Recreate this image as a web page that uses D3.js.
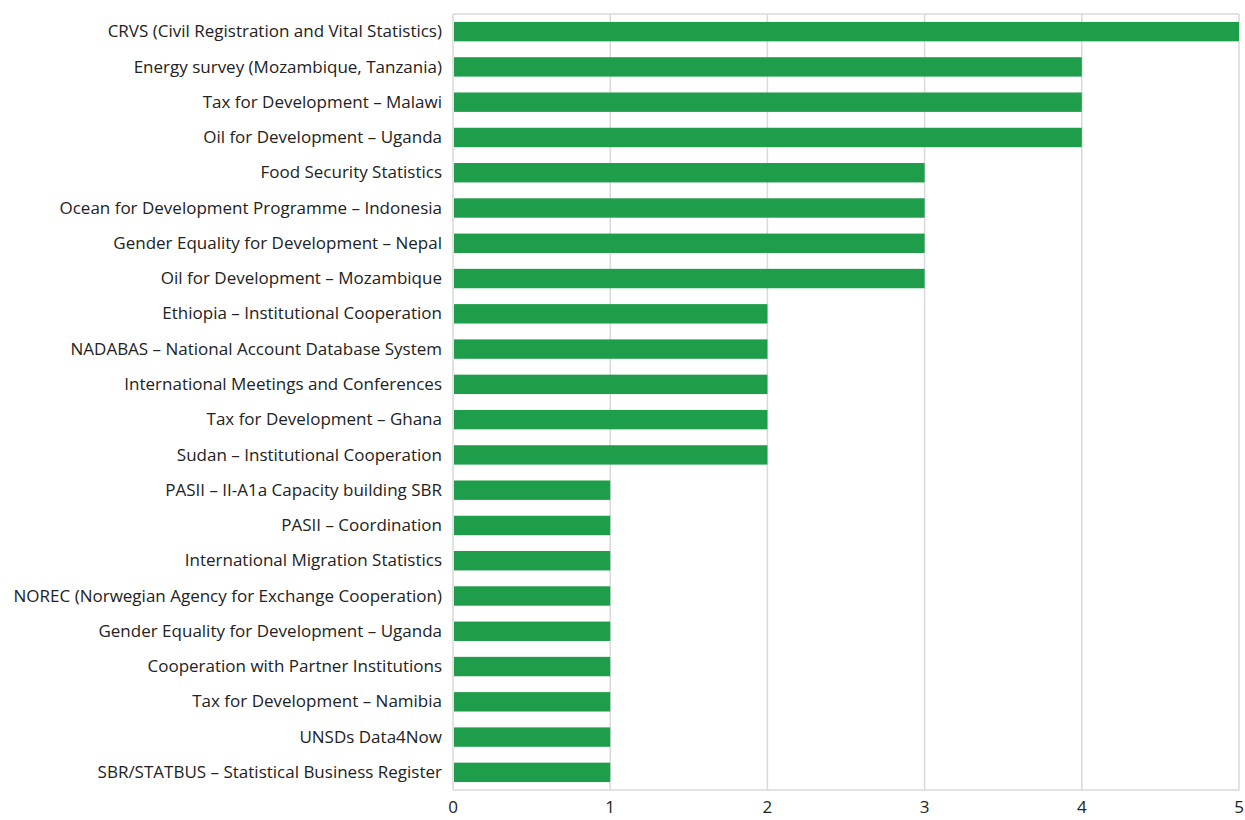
<!DOCTYPE html>
<html>
<head>
<meta charset="utf-8">
<script src="https://cdn.jsdelivr.net/npm/d3@7"></script>
<style>
  body { margin: 0; background: #fff; }
  text { font-family: "Open Sans", sans-serif; }
</style>
</head>
<body>
<div id="vis"></div>
<script>
// categories, top to bottom
let projects = [
  "CRVS (Civil Registration and Vital Statistics)",
  "Energy survey (Mozambique, Tanzania)",
  "Tax for Development – Malawi",
  "Oil for Development – Uganda",
  "Food Security Statistics",
  "Ocean for Development Programme – Indonesia",
  "Gender Equality for Development – Nepal",
  "Oil for Development – Mozambique",
  "Ethiopia – Institutional Cooperation",
  "NADABAS – National Account Database System",
  "International Meetings and Conferences",
  "Tax for Development – Ghana",
  "Sudan – Institutional Cooperation",
  "PASII – II-A1a Capacity building SBR",
  "PASII – Coordination",
  "International Migration Statistics",
  "NOREC (Norwegian Agency for Exchange Cooperation)",
  "Gender Equality for Development – Uganda",
  "Cooperation with Partner Institutions",
  "Tax for Development – Namibia",
  "UNSDs Data4Now",
  "SBR/STATBUS – Statistical Business Register"
]
let counts = [5, 4, 4, 4, 3, 3, 3, 3, 2, 2, 2, 2, 2, 1, 1, 1, 1, 1, 1, 1, 1, 1]
let xTicks = [0, 1, 2, 3, 4, 5]

let margin = { top: 14, left: 453, right: 6, bottom: 30 },
  width = 1245 - margin.left - margin.right,
  height = 820 - margin.top - margin.bottom

let svg = d3.select('#vis')
  .append('svg')
  .attr('width', 1245)
  .attr('height', 820)

let g = svg.append('g')
  .attr('transform', `translate(${margin.left},${margin.top})`)

let x = d3.scaleLinear().domain([0, 5]).range([0, width])
let y = d3.scaleBand().domain(projects).range([0, height]).paddingInner(0.45).paddingOuter(0.225)

// gridlines
g.selectAll('.grid')
  .data(xTicks)
  .join('line')
  .attr('x1', d => x(d)).attr('x2', d => x(d))
  .attr('y1', 0).attr('y2', height)
  .attr('stroke', '#d9d9d9')
  .attr('stroke-width', 1.5)

// frame top and bottom
g.append('line')
  .attr('x1', 0).attr('x2', width)
  .attr('y1', 0).attr('y2', 0)
  .attr('stroke', '#d9d9d9').attr('stroke-width', 1.5)
g.append('line')
  .attr('x1', 0).attr('x2', width)
  .attr('y1', height).attr('y2', height)
  .attr('stroke', '#d9d9d9').attr('stroke-width', 1.5)

// bars
g.selectAll('.bar')
  .data(projects)
  .join('rect')
  .attr('x', x(0) + 1)
  .attr('y', d => y(d))
  .attr('width', (d, i) => x(counts[i]) - x(0) - 1)
  .attr('height', y.bandwidth())
  .attr('fill', '#1e9e4a')

// category labels
g.selectAll('.label')
  .data(projects)
  .join('text')
  .attr('x', -11)
  .attr('y', d => y(d) + y.bandwidth() / 2)
  .attr('dy', '0.33em')
  .attr('text-anchor', 'end')
  .attr('font-size', 17)
  .attr('fill', '#222')
  .text(d => d)

// x tick labels (reference crops them at the bottom edge; kept just inside)
g.selectAll('.tick')
  .data(xTicks)
  .join('text')
  .attr('x', d => x(d))
  .attr('y', height + 23)
  .attr('text-anchor', 'middle')
  .attr('font-size', 17)
  .attr('fill', '#222')
  .text(d => d)
</script>
</body>
</html>
